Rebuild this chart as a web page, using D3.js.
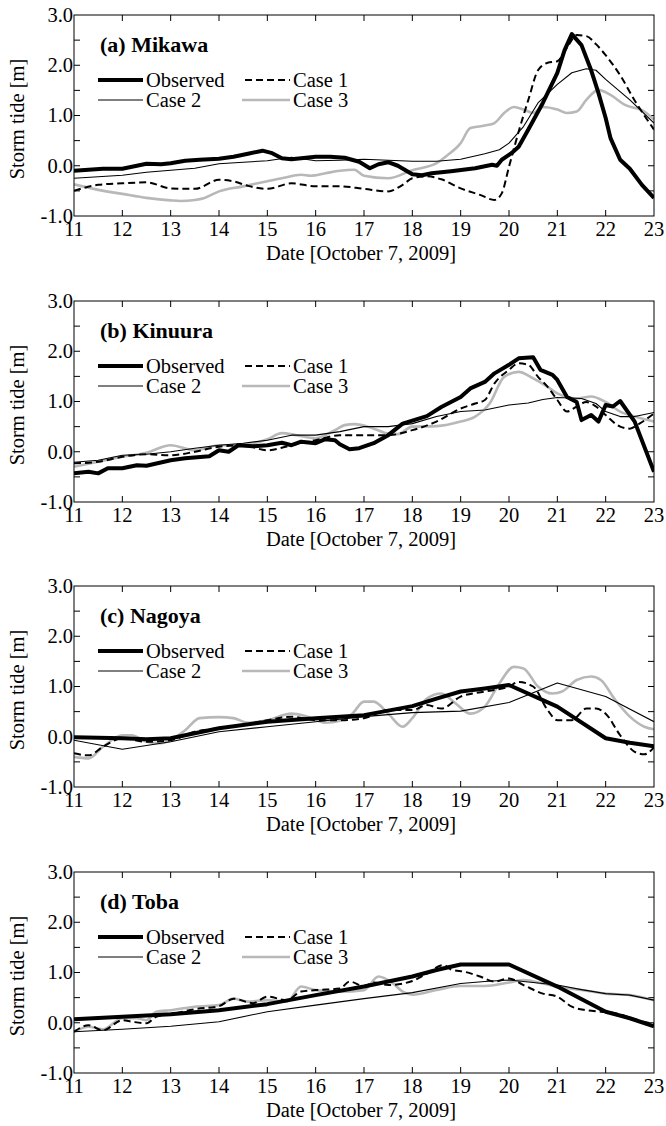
<!DOCTYPE html>
<html><head><meta charset="utf-8">
<script src="https://cdn.jsdelivr.net/npm/d3@7"></script>
<style>body{margin:0;background:#fff}svg{display:block}</style>
</head><body><svg id="c" width="666" height="1126"></svg>
<script>
const hourTicks = [11,12,13,14,15,16,17,18,19,20,21,22,23];
const valueTicks = [-1.0,0.0,1.0,2.0,3.0];
const seriesNames = ["Observed","Case 1","Case 2","Case 3"];
const stations = ["(a) Mikawa","(b) Kinuura","(c) Nagoya","(d) Toba"];

const mikawaObserved = [[11,-0.10],[11.3,-0.08],[11.6,-0.06],[12,-0.06],[12.2,-0.02],[12.5,0.04],[12.8,0.03],[13,0.05],[13.3,0.10],[13.6,0.12],[14,0.14],[14.3,0.18],[14.6,0.24],[14.9,0.30],[15.1,0.25],[15.3,0.15],[15.5,0.13],[15.7,0.15],[16,0.18],[16.3,0.18],[16.6,0.16],[16.9,0.08],[17.12,-0.05],[17.3,0.03],[17.5,0.07],[17.7,0.0],[18,-0.17],[18.2,-0.19],[18.4,-0.15],[18.8,-0.11],[19.3,-0.05],[19.65,0.02],[19.75,0.0],[19.85,0.12],[20.05,0.25],[20.2,0.38],[20.4,0.72],[20.7,1.25],[21,1.85],[21.15,2.3],[21.3,2.62],[21.5,2.4],[21.7,1.9],[21.85,1.45],[22,0.95],[22.1,0.55],[22.3,0.12],[22.5,-0.06],[22.75,-0.38],[23,-0.64]];
const mikawaCase1 = [[11,-0.50],[11.5,-0.38],[12,-0.35],[12.5,-0.33],[13,-0.45],[13.5,-0.46],[14,-0.28],[14.3,-0.31],[14.6,-0.40],[15,-0.46],[15.5,-0.35],[16,-0.41],[16.5,-0.41],[17,-0.46],[17.5,-0.51],[17.8,-0.38],[18,-0.25],[18.3,-0.21],[18.6,-0.27],[19,-0.45],[19.4,-0.58],[19.7,-0.68],[19.85,-0.55],[20,-0.02],[20.2,0.68],[20.4,1.31],[20.6,1.9],[20.8,2.05],[21,2.08],[21.2,2.35],[21.4,2.6],[21.6,2.58],[21.8,2.42],[22,2.2],[22.3,1.8],[22.6,1.3],[23,0.72]];
const mikawaCase2 = [[11,-0.25],[11.5,-0.22],[12,-0.19],[12.5,-0.13],[13,-0.09],[13.5,-0.05],[14,0.04],[14.5,0.07],[15,0.10],[15.5,0.17],[16,0.10],[16.5,0.11],[17,0.13],[17.5,0.11],[18,0.09],[18.5,0.09],[19,0.13],[19.5,0.24],[19.8,0.32],[20,0.45],[20.3,0.78],[20.6,1.25],[21,1.62],[21.3,1.85],[21.6,1.93],[21.8,1.90],[22,1.72],[22.5,1.31],[23,0.85]];
const mikawaCase3 = [[11,-0.37],[11.5,-0.48],[12,-0.56],[12.5,-0.64],[13,-0.69],[13.2,-0.70],[13.5,-0.68],[13.7,-0.64],[14,-0.51],[14.5,-0.41],[15,-0.31],[15.3,-0.25],[15.7,-0.18],[15.9,-0.20],[16.2,-0.15],[16.5,-0.10],[16.8,-0.08],[17,-0.20],[17.5,-0.25],[18,-0.09],[18.5,0.05],[18.7,0.19],[19,0.45],[19.2,0.75],[19.5,0.80],[19.7,0.85],[19.9,1.05],[20.1,1.17],[20.3,1.12],[20.5,1.05],[20.7,1.17],[21,1.12],[21.2,1.05],[21.4,1.08],[21.6,1.31],[21.85,1.51],[22.1,1.41],[22.4,1.21],[22.8,1.08],[23,0.92]];

const kinuuraObserved = [[11,-0.43],[11.3,-0.40],[11.5,-0.43],[11.7,-0.33],[12,-0.33],[12.3,-0.27],[12.5,-0.28],[13,-0.17],[13.3,-0.13],[13.8,-0.09],[14,0.03],[14.2,0.0],[14.4,0.13],[14.7,0.11],[15,0.13],[15.3,0.18],[15.5,0.13],[15.7,0.20],[16,0.17],[16.2,0.25],[16.4,0.23],[16.5,0.15],[16.7,0.05],[16.9,0.07],[17.2,0.17],[17.5,0.33],[17.8,0.56],[18,0.62],[18.3,0.71],[18.6,0.89],[19,1.09],[19.2,1.26],[19.5,1.39],[19.7,1.56],[20,1.73],[20.2,1.86],[20.5,1.88],[20.65,1.63],[20.9,1.53],[21,1.43],[21.2,1.09],[21.4,0.99],[21.5,0.63],[21.7,0.73],[21.85,0.60],[22,0.93],[22.15,0.90],[22.3,1.01],[22.6,0.60],[23,-0.40]];
const kinuuraCase1 = [[11,-0.23],[11.5,-0.20],[12,-0.10],[12.5,-0.05],[13,-0.07],[13.5,0.0],[14,0.10],[14.5,0.13],[15,0.03],[15.5,0.13],[16,0.23],[16.5,0.33],[17,0.33],[17.5,0.33],[18,0.43],[18.5,0.60],[19,0.86],[19.3,0.96],[19.5,1.03],[19.7,1.36],[20,1.63],[20.2,1.76],[20.4,1.73],[20.6,1.49],[20.8,1.29],[21,1.03],[21.2,0.80],[21.4,0.90],[21.6,0.99],[21.8,0.90],[22,0.73],[22.3,0.50],[22.5,0.46],[22.7,0.56],[23,0.76]];
const kinuuraCase2 = [[11,-0.21],[11.5,-0.17],[12,-0.07],[12.5,-0.05],[13,0.0],[13.5,0.07],[14,0.13],[14.5,0.17],[15,0.23],[15.5,0.33],[16,0.33],[16.5,0.40],[17,0.50],[17.5,0.50],[18,0.56],[18.5,0.70],[19,0.80],[19.5,0.83],[20,0.93],[20.4,0.97],[20.7,1.04],[21,1.08],[21.5,1.06],[21.8,0.96],[22,0.80],[22.3,0.70],[22.6,0.70],[23,0.78]];
const kinuuraCase3 = [[11,-0.30],[11.5,-0.20],[12,-0.10],[12.5,-0.02],[13,0.13],[13.5,0.03],[14,0.13],[14.5,0.13],[15,0.25],[15.3,0.37],[15.6,0.33],[16,0.27],[16.4,0.43],[16.6,0.53],[16.8,0.55],[17.2,0.46],[17.5,0.36],[17.7,0.35],[18,0.50],[18.5,0.51],[19,0.60],[19.3,0.70],[19.6,0.96],[19.9,1.49],[20.2,1.59],[20.5,1.46],[20.8,1.29],[21,1.16],[21.4,1.06],[21.7,1.10],[22,0.99],[22.3,0.80],[22.6,0.70],[23,0.60]];

const nagoyaObserved = [[11,-0.01],[12,-0.03],[12.5,-0.05],[13,-0.03],[14,0.17],[15,0.30],[16,0.37],[17,0.43],[18,0.61],[18.5,0.76],[19,0.90],[19.5,0.96],[20,1.03],[21,0.60],[22,-0.03],[22.5,-0.12],[23,-0.19]];
const nagoyaCase1 = [[11,-0.33],[11.3,-0.37],[11.6,-0.20],[12,-0.03],[12.5,-0.10],[13,-0.07],[13.5,0.10],[14,0.17],[14.5,0.23],[15,0.33],[15.5,0.40],[16,0.33],[16.5,0.33],[17,0.37],[17.5,0.53],[18,0.53],[18.3,0.63],[18.6,0.56],[19,0.80],[19.5,0.90],[20,1.00],[20.2,1.09],[20.5,1.00],[20.8,0.53],[21,0.33],[21.3,0.33],[21.6,0.56],[21.8,0.56],[22,0.46],[22.3,0.03],[22.6,-0.30],[22.8,-0.35],[23,-0.21]];
const nagoyaCase2 = [[11,-0.07],[12,-0.25],[13,-0.10],[14,0.10],[15,0.20],[16,0.30],[17,0.40],[18,0.48],[19,0.51],[20,0.68],[21,1.07],[22,0.80],[23,0.30]];
const nagoyaCase3 = [[11,-0.40],[11.3,-0.43],[11.6,-0.20],[12,0.03],[12.2,0.03],[12.5,-0.10],[12.8,-0.13],[13,-0.07],[13.3,0.13],[13.6,0.37],[14,0.39],[14.3,0.37],[14.6,0.28],[15,0.33],[15.5,0.46],[15.8,0.41],[16.2,0.28],[16.5,0.32],[16.75,0.45],[17,0.70],[17.2,0.70],[17.5,0.46],[17.8,0.20],[18,0.37],[18.3,0.76],[18.6,0.86],[18.9,0.66],[19.2,0.46],[19.5,0.60],[19.8,1.06],[20.1,1.39],[20.3,1.36],[20.6,1.00],[20.9,0.86],[21.1,0.90],[21.4,1.13],[21.7,1.20],[21.9,1.13],[22.2,0.73],[22.5,0.40],[22.8,0.20],[23,0.15]];

const tobaObserved = [[11,0.07],[12,0.12],[13,0.17],[14,0.25],[15,0.37],[16,0.55],[17,0.72],[17.5,0.82],[18,0.92],[18.5,1.05],[19,1.16],[20,1.16],[21,0.72],[22,0.22],[22.5,0.09],[23,-0.07]];
const tobaCase1 = [[11,-0.18],[11.3,-0.05],[11.6,-0.15],[12,0.05],[12.2,0.02],[12.5,-0.01],[12.7,0.12],[13,0.17],[13.5,0.27],[14,0.33],[14.3,0.48],[14.7,0.39],[15,0.52],[15.4,0.45],[15.7,0.62],[16,0.65],[16.5,0.68],[16.7,0.82],[17,0.73],[17.2,0.80],[17.5,0.75],[17.8,0.78],[18,0.83],[18.3,0.98],[18.65,1.15],[18.8,1.06],[19.1,1.01],[19.4,0.92],[19.7,0.82],[20,0.88],[20.3,0.75],[20.7,0.58],[21,0.52],[21.3,0.32],[21.6,0.25],[21.9,0.22],[22.2,0.19],[22.6,0.07],[23,-0.03]];
const tobaCase2 = [[11,-0.18],[12,-0.13],[13,-0.07],[14,0.02],[15,0.22],[16,0.35],[17,0.48],[18,0.60],[19,0.78],[19.5,0.82],[20,0.85],[21,0.75],[21.5,0.66],[22,0.58],[22.5,0.55],[23,0.45]];
const tobaCase3 = [[11,-0.18],[11.3,-0.08],[11.6,-0.13],[12,0.09],[12.3,0.09],[12.5,0.05],[12.7,0.22],[13,0.25],[13.5,0.32],[14,0.35],[14.3,0.48],[14.6,0.42],[15,0.45],[15.4,0.42],[15.7,0.72],[16,0.65],[16.5,0.62],[17,0.65],[17.3,0.92],[17.6,0.78],[17.8,0.62],[18,0.56],[18.5,0.65],[19,0.73],[19.5,0.73],[20,0.80],[20.3,0.85],[20.7,0.78],[21,0.72],[21.5,0.65],[22,0.58],[22.5,0.55],[23,0.45]];

const panelSeries = [
  [mikawaObserved, mikawaCase1, mikawaCase2, mikawaCase3],
  [kinuuraObserved, kinuuraCase1, kinuuraCase2, kinuuraCase3],
  [nagoyaObserved, nagoyaCase1, nagoyaCase2, nagoyaCase3],
  [tobaObserved, tobaCase1, tobaCase2, tobaCase3]
];

const styles = [
  {stroke:"#000", width:4, dash:null, curve:d3.curveLinear},
  {stroke:"#000", width:2, dash:"7,4", curve:d3.curveMonotoneX},
  {stroke:"#000", width:1.1, dash:null, curve:d3.curveLinear},
  {stroke:"#b8b8b8", width:2.6, dash:null, curve:d3.curveMonotoneX}
];

const FONT = "'Liberation Serif', 'Times New Roman', Times, 'DejaVu Serif', serif";
const svg = d3.select("#c").attr("font-family", FONT);
const L = 74, W = 580, H = 201;
const tops = [15, 301, 586, 872];
const FS = 20.5;
const x = d3.scaleLinear().domain([11,23]).range([L, L+W]);

stations.forEach((name, i) => {
  const top = tops[i];
  const y = d3.scaleLinear().domain([-1,3]).range([top+H, top]);
  const g = svg.append("g");
  const tk = 6;
  const minorY = d3.range(-1, 3.01, 0.5);
  hourTicks.slice(1,-1).forEach(h => {
    g.append("line").attr("x1",x(h)).attr("x2",x(h)).attr("y1",top+H).attr("y2",top+H-tk).attr("stroke","#000");
    g.append("line").attr("x1",x(h)).attr("x2",x(h)).attr("y1",top).attr("y2",top+tk).attr("stroke","#000");
  });
  minorY.slice(1,-1).forEach(v => {
    g.append("line").attr("x1",L).attr("x2",L+tk).attr("y1",y(v)).attr("y2",y(v)).attr("stroke","#000");
    g.append("line").attr("x1",L+W).attr("x2",L+W-tk).attr("y1",y(v)).attr("y2",y(v)).attr("stroke","#000");
  });
  const clipId = "clip"+i;
  svg.append("clipPath").attr("id",clipId).append("rect").attr("x",L).attr("y",top).attr("width",W).attr("height",H);
  [3,2,1,0].forEach(k => {
    const st = styles[k];
    const line = d3.line().x(d=>x(d[0])).y(d=>y(d[1])).curve(st.curve);
    g.append("path").attr("d", line(panelSeries[i][k])).attr("fill","none")
      .attr("stroke",st.stroke).attr("stroke-width",st.width)
      .attr("stroke-dasharray",st.dash).attr("stroke-linejoin","round")
      .attr("clip-path",`url(#${clipId})`);
  });
  g.append("rect").attr("x",L).attr("y",top).attr("width",W).attr("height",H).attr("fill","none").attr("stroke","#000").attr("stroke-width",1);
  valueTicks.forEach(v => {
    g.append("text").attr("x",L-1).attr("y",y(v)).attr("dy","0.34em").attr("text-anchor","end")
      .attr("font-family",FONT).attr("font-size",FS).text(v.toFixed(1));
  });
  hourTicks.forEach(h => {
    g.append("text").attr("x",x(h)).attr("y",top+H+20).attr("text-anchor","middle").attr("font-family",FONT).attr("font-size",FS).text(h);
  });
  g.append("text").attr("x",L+W/2-3).attr("y",top+H+44).attr("text-anchor","middle").attr("font-family",FONT).attr("font-size",FS).text("Date [October 7, 2009]");
  g.append("text").attr("transform",`translate(24,${top+104}) rotate(-90)`).attr("text-anchor","middle").attr("font-family",FONT).attr("font-size",FS).text("Storm tide [m]");
  g.append("text").attr("x",100).attr("y",top+37).attr("font-family",FONT).attr("font-size",22).attr("font-weight","bold").text(name);
  const legPos = [[98,143,top+65],[245,290,top+65],[98,143,top+85],[242,290,top+85]];
  seriesNames.forEach((s,k) => {
    const st = styles[k], p = legPos[k];
    g.append("line").attr("x1",p[0]).attr("x2",p[1]).attr("y1",p[2]).attr("y2",p[2])
      .attr("stroke",st.stroke).attr("stroke-width",st.width).attr("stroke-dasharray",st.dash);
    g.append("text").attr("x",p[1]+3).attr("y",p[2]+7).attr("font-family",FONT).attr("font-size",FS).text(s);
  });
});
</script></body></html>
